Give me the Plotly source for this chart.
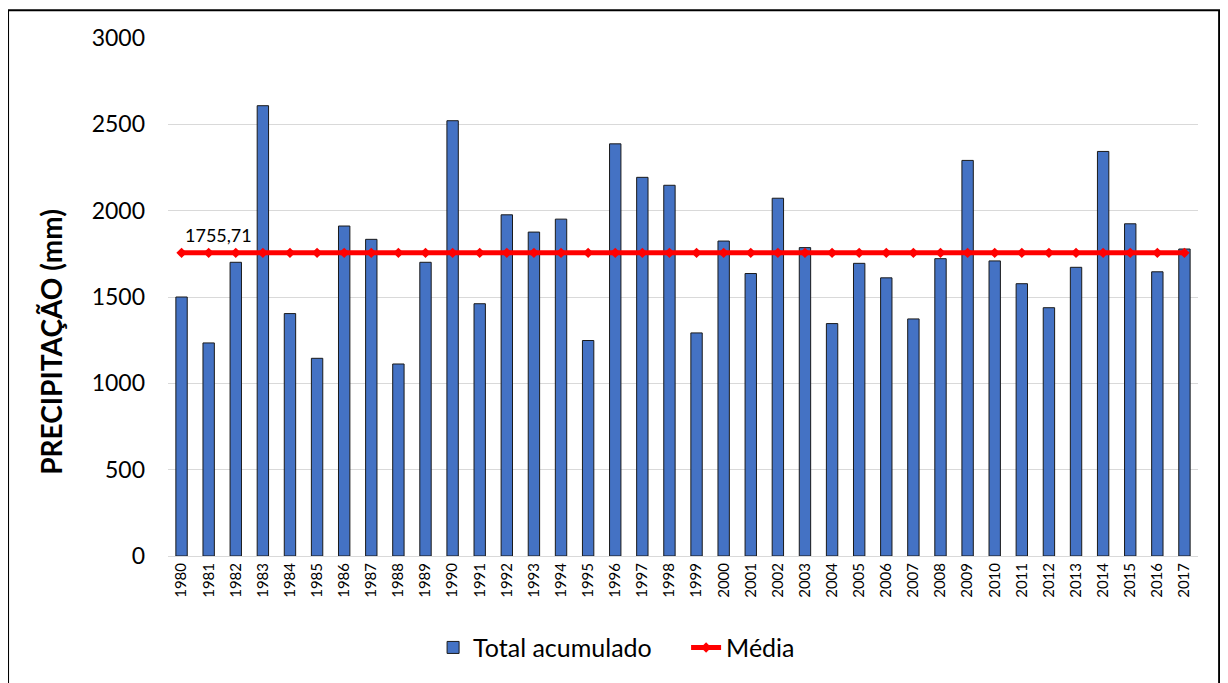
import plotly.graph_objects as go

# Annual accumulated precipitation (mm)
years = [str(y) for y in range(1980, 2018)]
total_acumulado = [
    1500, 1234, 1701, 2608, 1404, 1145, 1911, 1834, 1112, 1701,
    2521, 1461, 1976, 1876, 1951, 1248, 2387, 2193, 2147, 1292,
    1824, 1636, 2072, 1786, 1346, 1695, 1611, 1373, 1722, 2291,
    1709, 1577, 1438, 1672, 2343, 1924, 1646, 1778,
]
media_value = 1755.71
media = [media_value] * len(years)
media_label = "1755,71"

FONT = "Lato"

fig = go.Figure()

fig.add_trace(go.Bar(
    x=years,
    y=total_acumulado,
    name="Total acumulado",
    marker=dict(color="#4472C4", line=dict(color="#1a1a1a", width=1)),
))

fig.add_trace(go.Scatter(
    x=years,
    y=media,
    name="Média",
    mode="lines+markers",
    line=dict(color="#FF0000", width=5),
    marker=dict(symbol="diamond", size=8, color="#FF0000"),
))

# data label on first point of the mean line (x given as category index)
fig.add_annotation(
    x=0, y=media_value,
    text=media_label,
    showarrow=False,
    xanchor="left", yanchor="bottom",
    xshift=1, yshift=5,
    font=dict(family=FONT, size=18, color="#000000"),
)

# y axis title, placed like the original (a bit below the plot centre)
fig.add_annotation(
    xref="paper", yref="paper",
    x=-0.1136, y=0.4136,
    xanchor="center", yanchor="middle",
    text="<b>PRECIPITAÇÃO (mm)</b>",
    textangle=-90,
    showarrow=False,
    font=dict(family=FONT, size=28, color="#000000"),
)

# chart area border
fig.add_shape(
    type="rect", xref="paper", yref="paper",
    x0=-0.1553, x1=1.0205, y0=-0.27, y1=1.0537,
    line=dict(color="#000000", width=2),
    fillcolor="rgba(0,0,0,0)",
    layer="above",
)
fig.add_shape(
    type="line", xref="paper", yref="paper",
    x0=1.0235, x1=1.0235, y0=-0.27, y1=1.0537,
    line=dict(color="#000000", width=3),
    layer="above",
)

fig.update_layout(
    width=1220,
    height=675,
    margin=dict(l=160, r=30, t=30, b=120),
    plot_bgcolor="white",
    paper_bgcolor="white",
    bargap=0.58,
    font=dict(family=FONT, color="#000000"),
    showlegend=True,
    legend=dict(
        orientation="h",
        x=0.503, xanchor="center",
        y=-0.177, yanchor="middle",
        font=dict(family=FONT, size=25),
        traceorder="normal",
        entrywidth=208,
    ),
)

fig.update_xaxes(
    type="category",
    range=[-0.5, len(years) - 0.5],
    tickangle=-90,
    tickfont=dict(family=FONT, size=15),
    showgrid=False,
    showline=True,
    linecolor="#d9d9d9",
    linewidth=1,
    ticks="",
)

fig.update_yaxes(
    range=[0, 3000],
    dtick=500,
    tickfont=dict(family=FONT, size=23),
    showgrid=True,
    gridcolor="#d9d9d9",
    gridwidth=1,
    zeroline=False,
    ticklabelstandoff=22,
)

fig.write_html("out.html")
